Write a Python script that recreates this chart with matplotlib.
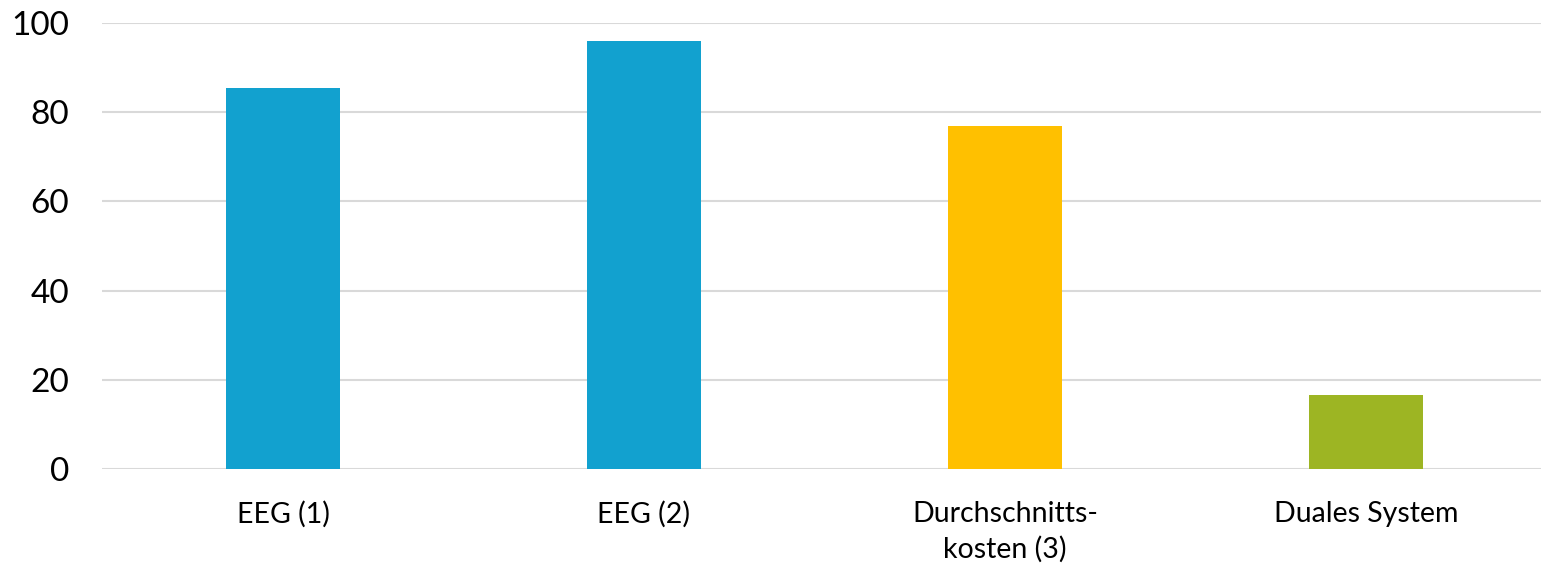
import matplotlib
matplotlib.use("Agg")
import matplotlib.pyplot as plt

categories = ["EEG (1)", "EEG (2)", "Durchschnitts-\nkosten (3)", "Duales System"]
values = [85.4, 96.0, 76.9, 16.6]
colors = ["#12A1CF", "#12A1CF", "#FFC000", "#9DB523"]
yticks = [0, 20, 40, 60, 80, 100]

plt.rcParams['font.family'] = ['Lato', 'DejaVu Sans']

fig = plt.figure(figsize=(15.41, 5.63), dpi=100)
ax = fig.add_axes([0.0665, 0.167, 0.937, 0.792])
x = list(range(len(categories)))
ax.bar(x, values, width=0.316, color=colors, zorder=3)
ax.set_xlim(-0.5, len(categories) - 0.5)
ax.set_ylim(0, 100)
ax.set_yticks(yticks)
ax.set_yticklabels([str(t) for t in yticks], fontsize=24)
ax.set_xticks(x)
ax.set_xticklabels(categories, fontsize=20.5, linespacing=1.4)
ax.tick_params(axis='x', length=0, pad=23)
ax.tick_params(axis='y', length=0, pad=24)
ax.grid(axis='y', color='#D9D9D9', linewidth=1.5, zorder=0)
for s in ax.spines.values():
    s.set_visible(False)
fig.savefig("out.png", dpi=100)
